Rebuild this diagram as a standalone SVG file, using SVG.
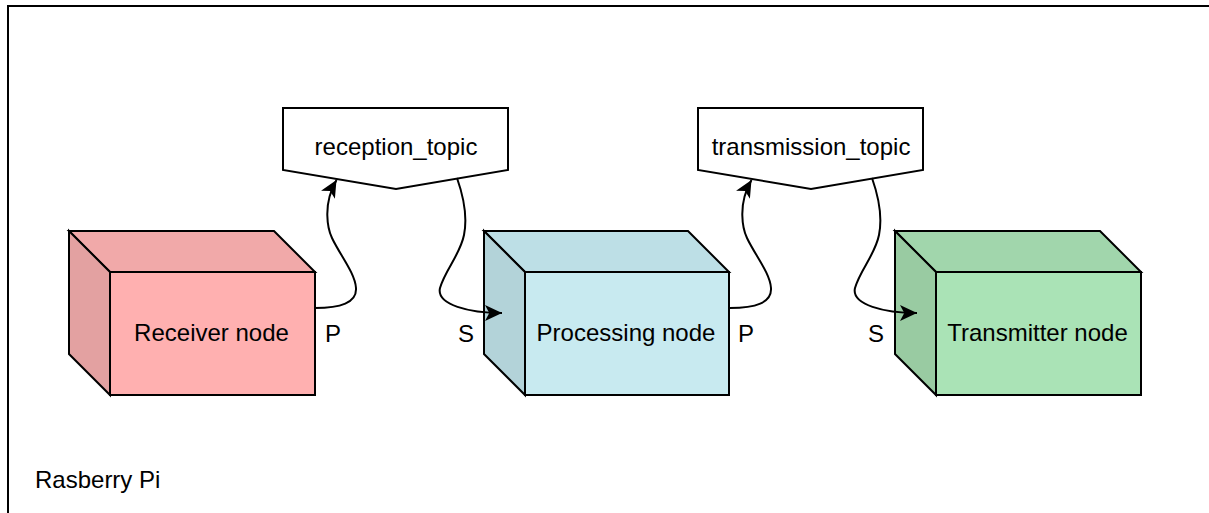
<svg xmlns="http://www.w3.org/2000/svg" width="1209" height="513" viewBox="0 0 1209 513">
  <style>
    .edge { fill: none; stroke: #000; stroke-width: 2; }
    .outline { stroke: #000; stroke-width: 2; stroke-linejoin: miter; }
    .lbl { font-family: "Liberation Sans", Arial, sans-serif; font-size: 24px; fill: #000; }
    .mid { text-anchor: middle; }
    .red .front { fill: #ffb0b0; } .red .top { fill: #f1a9a9; } .red .side { fill: #e3a1a1; }
    .blue .front { fill: #c8eaf0; } .blue .top { fill: #bddfe6; } .blue .side { fill: #b3d3d9; }
    .green .front { fill: #aae3b6; } .green .top { fill: #a1d6ac; } .green .side { fill: #99cba2; }
  </style>
  <defs>
    <marker id="arrow" markerUnits="userSpaceOnUse" markerWidth="18" markerHeight="17" refX="17" refY="8" orient="auto" overflow="visible">
      <path d="M0,0 L17,8 L0,16 L4.25,8 Z" fill="#000"/>
    </marker>
  </defs>

  <rect width="1209" height="513" fill="#fff"/>

  <!-- device frame (open to the right and bottom) -->
  <g id="rasberry-pi">
    <path d="M8,513 V6 H1209" fill="none" stroke="#000" stroke-width="2"/>
    <text class="lbl" x="35" y="488">Rasberry Pi</text>
  </g>

  <!-- topics -->
  <g id="reception-topic">
    <polygon class="outline" fill="#fff" points="283,108 508,108 508,170 396,189 283,170"/>
    <text class="lbl mid" x="396" y="155">reception_topic</text>
  </g>
  <g id="transmission-topic">
    <polygon class="outline" fill="#fff" points="698,108 923,108 923,170 811,189 698,170"/>
    <text class="lbl mid" x="811" y="155">transmission_topic</text>
  </g>

  <!-- nodes drawn as cubes: top face, left face, front face -->
  <g id="receiver-node" class="red">
    <polygon class="outline top" points="69,231 274,231 315,272 110,272"/>
    <polygon class="outline side" points="69,231 110,272 110,395 69,354"/>
    <rect class="outline front" x="110" y="272" width="205" height="123"/>
    <text class="lbl mid" x="211.5" y="341">Receiver node</text>
  </g>
  <g id="processing-node" class="blue">
    <polygon class="outline top" points="484,231 688,231 729,272 525,272"/>
    <polygon class="outline side" points="484,231 525,272 525,395 484,354"/>
    <rect class="outline front" x="525" y="272" width="204" height="123"/>
    <text class="lbl mid" x="626" y="341">Processing node</text>
  </g>
  <g id="transmitter-node" class="green">
    <polygon class="outline top" points="895,231 1100,231 1141,272 936,272"/>
    <polygon class="outline side" points="895,231 936,272 936,395 895,354"/>
    <rect class="outline front" x="936" y="272" width="205" height="123"/>
    <text class="lbl mid" x="1037.5" y="341">Transmitter node</text>
  </g>

  <!-- publish / subscribe connectors -->
  <g id="connectors">
    <path class="edge" marker-end="url(#arrow)" d="M315,308 C340,308 357,303 356,288 C355,273 340,255 332,238 C328,229.5 322,205 336.5,180"/>
    <path class="edge" marker-end="url(#arrow)" d="M457,178 C463,195 468,215 464,235 C460,255 445,270 440,288 C436,305 470,313 502,313"/>
    <path class="edge" marker-end="url(#arrow)" d="M730,308 C755,308 772,303 771,288 C770,273 755,255 747,238 C743,229.5 737,205 751.5,180"/>
    <path class="edge" marker-end="url(#arrow)" d="M872,178 C878,195 883,215 879,235 C875,255 860,270 855,288 C851,305 885,313 917,313"/>
    <text class="lbl mid" x="333" y="342">P</text>
    <text class="lbl mid" x="466" y="342">S</text>
    <text class="lbl mid" x="746" y="342">P</text>
    <text class="lbl mid" x="876" y="342">S</text>
  </g>
</svg>
